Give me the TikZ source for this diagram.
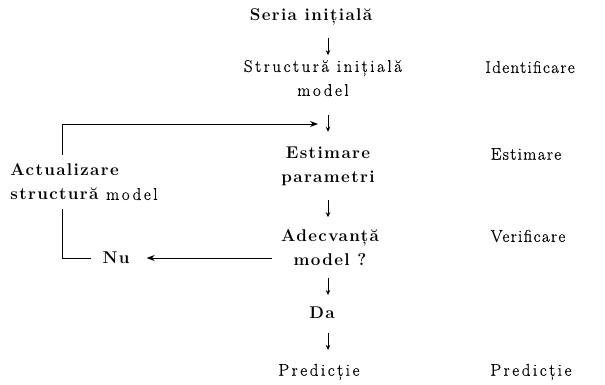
\documentclass[tikz,border=0pt]{standalone}
\usepackage{fontspec}
\setmainfont{Latin Modern Roman}[LetterSpace=8, UprightFeatures={FakeBold=0.5}]
\newfontfamily\widefont{Latin Modern Roman}[LetterSpace=15, FakeBold=0.5]
\usetikzlibrary{arrows.meta,calc}
\begin{document}
\begin{tikzpicture}[x=1pt,y=-1pt,
  every node/.style={font=\fontsize{17}{24}\selectfont, inner sep=1pt, align=center},
  bf/.style={font=\fontsize{17}{24}\selectfont\bfseries},
  wide/.style={font=\fontsize{17}{24}\selectfont\widefont},
  arr/.style={line width=0.9pt,-{Stealth[length=5pt,width=4.5pt]}},
  loop/.style={line width=0.9pt},
  looparr/.style={line width=0.9pt,-{Stealth[length=8pt,width=6pt]}}]
\useasboundingbox (0,0) rectangle (605,384);
% main column
\node[bf] (seria) at (311,17) {Seria inițială};
\node[wide] (str) at (323,78) {Structură inițială\\model};
\node[bf] (est) at (328,166) {Estimare\\parametri};
\node[bf] (adec) at (330,248) {Adecvanță\\model ?};
\node[bf] (da) at (322,313) {Da};
\node[wide] (pred) at (319,372) {Predicție};
% right column
\node (r1) at (530,67) {Identificare};
\node (r2) at (526,154) {Estimare};
\node (r3) at (528,236) {Verificare};
\node[wide] (r4) at (531,372) {Predicție};
% left
\node[bf, align=left] (act) at (84,182) {Actualizare\\structură {\mdseries\widefont model}};
\node[bf] (nu) at (116,258) {Nu};
\coordinate (ax) at (328,0);
\coordinate (lx) at (62,0);
\coordinate (merge) at (318,124);
% vertical arrows (short, centred in the gap)
\foreach \a/\b/\o in {seria/str/4, str/est/2, est/adec/1, adec/da/0, da/pred/0}{
  \draw[arr] ($(\a.south -| ax)!0.5!(\b.north -| ax) + (0,\o-8.5)$) -- ++(0,17);
}
% loop
\draw[looparr] ([yshift=8pt]act.north -| lx) |- (merge);
\draw[looparr] ([xshift=-8pt]adec.west |- nu) -- ([xshift=16pt]nu.east);
\draw[loop] ([xshift=-10pt]nu.west) -| ([yshift=-8pt]act.south -| lx);
\end{tikzpicture}
\end{document}
